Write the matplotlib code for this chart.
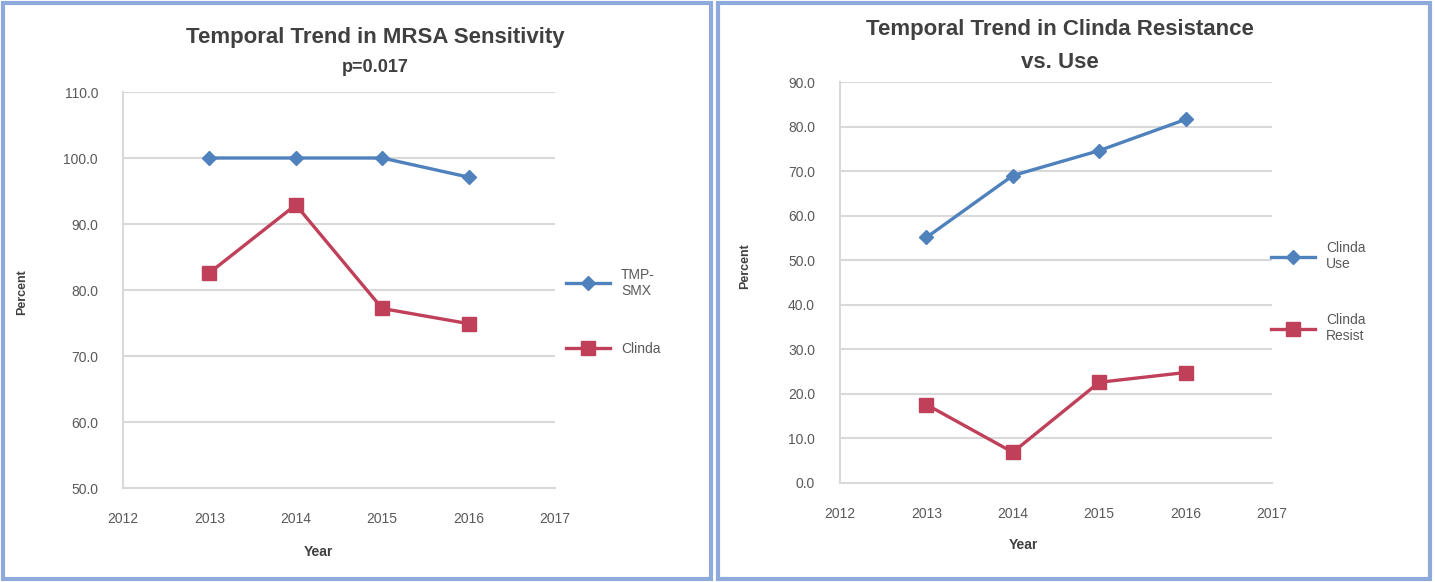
import matplotlib
matplotlib.use("Agg")
import matplotlib.pyplot as plt
from matplotlib.patches import Rectangle
from matplotlib.ticker import FormatStrFormatter

# yearly values, both panels
years = [2013, 2014, 2015, 2016]
tmp_smx_sens = [100.0, 100.0, 100.0, 97.1]
clinda_sens = [82.6, 92.9, 77.2, 74.9]
clinda_use = [55.1, 69.0, 74.6, 81.6]
clinda_resist = [17.6, 6.9, 22.6, 24.8]

BLUE = '#4F81BD'
RED = '#C0405A'
GRID = '#D9D9D9'
TXT = '#595959'
plt.rcParams['font.family'] = ['Liberation Sans', 'DejaVu Sans']

fig = plt.figure(figsize=(14.35, 5.82), dpi=100)

# light blue frame round each chart
for x0, w in [(3, 708), (718, 712)]:
  fig.patches.append(Rectangle((x0 / 1435., 3 / 582.), w / 1435., 576 / 582.,
                               transform=fig.transFigure, fill=False,
                               edgecolor='#8EAADB', linewidth=3))

def styleAxes(ax, ymin, ymax):
  ax.set_xlim(2012, 2017)
  ax.set_ylim(ymin, ymax)
  ax.set_xticks(range(2012, 2018))
  ax.set_yticks(range(ymin, ymax + 1, 10))
  ax.yaxis.set_major_formatter(FormatStrFormatter('%.1f'))
  ax.tick_params(axis='y', length=0, labelsize=10, colors=TXT, pad=18)
  ax.tick_params(axis='x', length=0, labelsize=10, colors=TXT, pad=17)
  ax.grid(axis='y', color=GRID, linewidth=1.5)
  ax.set_axisbelow(True)
  for s in ['top', 'right']:
    ax.spines[s].set_visible(False)
  for s in ['left', 'bottom']:
    ax.spines[s].set_color(GRID)
    ax.spines[s].set_linewidth(1.5)

# left: MRSA sensitivity
ax1 = fig.add_axes([123 / 1435., 1 - 488 / 582., 432 / 1435., 396 / 582.])
styleAxes(ax1, 50, 110)
l1, = ax1.plot(years, tmp_smx_sens, '-D', color=BLUE, lw=2.4, ms=7)
l2, = ax1.plot(years, clinda_sens, '-s', color=RED, lw=2.4, ms=10)
fig.text(375 / 1435., 1 - 37 / 582., 'Temporal Trend in MRSA Sensitivity',
         ha='center', va='center', fontsize=16, fontweight='bold', color='#404040')
fig.text(375 / 1435., 1 - 68 / 582., 'p=0.017', ha='center', va='center',
         fontsize=13, fontweight='bold', color='#404040')
fig.text(22 / 1435., 1 - 292 / 582., 'Percent', rotation=90, ha='center',
         va='center', fontsize=9, fontweight='bold', color='#404040')
fig.text(318 / 1435., 1 - 552 / 582., 'Year', ha='center', va='center',
         fontsize=10, fontweight='bold', color='#404040')
fig.legend([l1, l2], ['TMP-\nSMX', 'Clinda'], loc='center left',
           bbox_to_anchor=(553 / 1435., 1 - 312 / 582.), frameon=False,
           handlelength=3.2, labelspacing=3.2, fontsize=10, labelcolor=TXT)

# right: clinda resistance vs use
ax2 = fig.add_axes([840 / 1435., 1 - 483 / 582., 432 / 1435., 401 / 582.])
styleAxes(ax2, 0, 90)
r1, = ax2.plot(years, clinda_use, '-D', color=BLUE, lw=2.4, ms=7)
r2, = ax2.plot(years, clinda_resist, '-s', color=RED, lw=2.4, ms=10)
fig.text(1060 / 1435., 1 - 30 / 582., 'Temporal Trend in Clinda Resistance',
         ha='center', va='center', fontsize=16, fontweight='bold', color='#404040')
fig.text(1060 / 1435., 1 - 62 / 582., 'vs. Use', ha='center', va='center',
         fontsize=16, fontweight='bold', color='#404040')
fig.text(745 / 1435., 1 - 266 / 582., 'Percent', rotation=90, ha='center',
         va='center', fontsize=9, fontweight='bold', color='#404040')
fig.text(1023 / 1435., 1 - 545 / 582., 'Year', ha='center', va='center',
         fontsize=10, fontweight='bold', color='#404040')
fig.legend([r1, r2], ['Clinda\nUse', 'Clinda\nResist'], loc='center left',
           bbox_to_anchor=(1258 / 1435., 1 - 292 / 582.), frameon=False,
           handlelength=3.2, labelspacing=3.0, fontsize=10, labelcolor=TXT)

fig.savefig('out.png', dpi=100)
